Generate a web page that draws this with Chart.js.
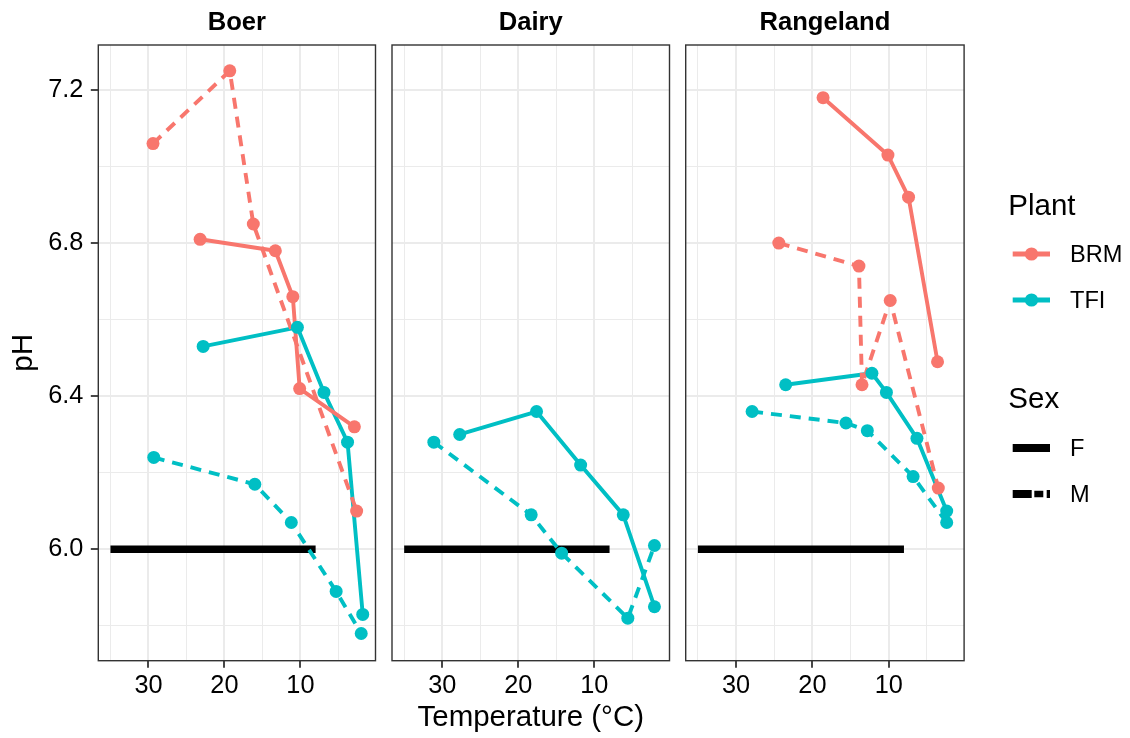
<!DOCTYPE html>
<html><head><meta charset="utf-8">
<script src="https://cdn.jsdelivr.net/npm/chart.js@4.4.1/dist/chart.umd.min.js"></script>
<style>
html,body{margin:0;padding:0;background:#fff;}
body{width:1130px;height:738px;position:relative;overflow:hidden;}
canvas{position:absolute;top:0;}
</style></head><body>
<canvas id="c1" width="382" height="738" style="left:0px"></canvas>
<canvas id="c2" width="292" height="738" style="left:384px"></canvas>
<canvas id="c3" width="452" height="738" style="left:678px"></canvas>
<script>
// ---------------- DATA ----------------
const facets = ['Boer', 'Dairy', 'Rangeland'];
const plants = ['BRM', 'TFI'];
const sexes = ['F', 'M'];

// Boer
const boer_BRM_F_temp = [23.2, 13.3, 11.0, 10.1, 2.9];
const boer_BRM_F_pH   = [6.81, 6.78, 6.66, 6.42, 6.32];
const boer_BRM_M_temp = [29.4, 19.3, 16.2, 2.6];
const boer_BRM_M_pH   = [7.06, 7.25, 6.85, 6.10];
const boer_TFI_F_temp = [22.8, 10.4, 6.9, 3.8, 1.8];
const boer_TFI_F_pH   = [6.53, 6.58, 6.41, 6.28, 5.83];
const boer_TFI_M_temp = [29.3, 16.0, 11.2, 5.3, 2.0];
const boer_TFI_M_pH   = [6.24, 6.17, 6.07, 5.89, 5.78];
// Dairy
const dairy_TFI_F_temp = [27.7, 17.6, 11.8, 6.2, 2.1];
const dairy_TFI_F_pH   = [6.30, 6.36, 6.22, 6.09, 5.85];
const dairy_TFI_M_temp = [31.1, 18.3, 14.3, 5.6, 2.1];
const dairy_TFI_M_pH   = [6.28, 6.09, 5.99, 5.82, 6.01];
// Rangeland
const range_BRM_F_temp = [18.6, 10.1, 7.4, 3.6];
const range_BRM_F_pH   = [7.18, 7.03, 6.92, 6.49];
const range_BRM_M_temp = [24.4, 13.9, 13.5, 9.8, 3.5];
const range_BRM_M_pH   = [6.80, 6.74, 6.43, 6.65, 6.16];
const range_TFI_F_temp = [23.5, 12.2, 10.3, 6.3, 2.4];
const range_TFI_F_pH   = [6.43, 6.46, 6.41, 6.29, 6.10];
const range_TFI_M_temp = [27.9, 15.6, 12.8, 6.8, 2.4];
const range_TFI_M_pH   = [6.36, 6.33, 6.31, 6.19, 6.07];

// reference (Sex = F) bar
const refLine_temp = [35, 8];
const refLine_pH = [6.0, 6.0];

// ticks
const xMajorTicks = [10, 20, 30];
const xMinorTicks = [5, 15, 25, 35];
const yMajorTicks = [6.0, 6.4, 6.8, 7.2];
const yMinorTicks = [5.8, 6.2, 6.6, 7.0];
const xLimits = [0.12, 36.6];
const yLimits = [5.709, 7.3176];

// ---------------- STYLE ----------------
const FONT = "'Liberation Sans', Arial, Helvetica, sans-serif";
const plantColor = { BRM: '#F8766D', TFI: '#00BFC4' };
const dashFor = { F: [], M: [11, 8] };

const seriesByFacet = {
  Boer: [
    ['BRM', 'F', boer_BRM_F_temp, boer_BRM_F_pH],
    ['BRM', 'M', boer_BRM_M_temp, boer_BRM_M_pH],
    ['TFI', 'F', boer_TFI_F_temp, boer_TFI_F_pH],
    ['TFI', 'M', boer_TFI_M_temp, boer_TFI_M_pH]
  ],
  Dairy: [
    ['TFI', 'F', dairy_TFI_F_temp, dairy_TFI_F_pH],
    ['TFI', 'M', dairy_TFI_M_temp, dairy_TFI_M_pH]
  ],
  Rangeland: [
    ['BRM', 'F', range_BRM_F_temp, range_BRM_F_pH],
    ['BRM', 'M', range_BRM_M_temp, range_BRM_M_pH],
    ['TFI', 'F', range_TFI_F_temp, range_TFI_F_pH],
    ['TFI', 'M', range_TFI_M_temp, range_TFI_M_pH]
  ]
};

const zip = (xs, ys) => xs.map((x, i) => ({ x: x, y: ys[i] }));
const near = (arr, v) => arr.some(m => Math.abs(m - v) < 1e-6);
const xAll = xMajorTicks.concat(xMinorTicks).sort((a, b) => a - b);
const yAll = yMajorTicks.concat(yMinorTicks).sort((a, b) => a - b);

function buildDatasets(facet) {
  const ds = [];
  ds.push({
    data: zip(refLine_temp, refLine_pH), borderColor: '#000000', borderWidth: 7.5,
    pointRadius: 0, fill: false, tension: 0, borderCapStyle: 'butt', order: 3
  });
  seriesByFacet[facet].forEach(([plant, sex, t, p]) => {
    ds.push({
      data: zip(t, p), borderColor: plantColor[plant], borderWidth: 3.9,
      borderDash: dashFor[sex], pointRadius: 0, fill: false, tension: 0,
      borderCapStyle: 'butt', borderJoinStyle: 'round', order: 2
    });
  });
  seriesByFacet[facet].forEach(([plant, sex, t, p]) => {
    ds.push({
      data: zip(t, p), showLine: false, pointRadius: 6.5,
      pointBackgroundColor: plantColor[plant], pointBorderColor: plantColor[plant],
      pointBorderWidth: 0, order: 1
    });
  });
  return ds;
}

const panelPlugin = {
  id: 'panelDeco',
  afterDatasetsDraw(chart) {
    const ca = chart.chartArea, ctx = chart.ctx;
    ctx.save();
    ctx.strokeStyle = '#333333';
    ctx.lineWidth = 1.4;
    ctx.strokeRect(ca.left, ca.top, ca.right - ca.left, ca.bottom - ca.top);
    ctx.restore();
  },
  afterDraw(chart) {
    const ca = chart.chartArea, ctx = chart.ctx;
    const name = chart.options.plugins.panelDeco.title;
    ctx.save();
    ctx.fillStyle = '#000';
    ctx.font = 'bold 25.6px ' + FONT;
    ctx.textAlign = 'center';
    ctx.textBaseline = 'alphabetic';
    ctx.fillText(name, (ca.left + ca.right) / 2, 30);
    ctx.restore();
  }
};

const legendPlugin = {
  id: 'ggLegend',
  afterDraw(chart) {
    const o = chart.options.plugins.ggLegend;
    if (!o || !o.show) return;
    const ox = o.offsetX;
    const ctx = chart.ctx;
    ctx.save();
    ctx.fillStyle = '#000';
    ctx.textAlign = 'left';
    ctx.textBaseline = 'alphabetic';
    ctx.font = '29.5px ' + FONT;
    ctx.fillText('Plant', 1008.3 - ox, 215);
    ctx.fillText('Sex', 1008.3 - ox, 407.5);
    const keyL = 1012.7 - ox, keyR = 1050 - ox, keyM = 1031.5 - ox;
    const plantY = [254, 300];
    plants.forEach((pl, i) => {
      const y = plantY[i];
      ctx.strokeStyle = plantColor[pl];
      ctx.lineWidth = 5;
      ctx.lineCap = 'butt';
      ctx.beginPath(); ctx.moveTo(keyL, y); ctx.lineTo(keyR, y); ctx.stroke();
      ctx.fillStyle = plantColor[pl];
      ctx.beginPath(); ctx.arc(keyM, y, 6.6, 0, Math.PI * 2); ctx.fill();
      ctx.fillStyle = '#000';
      ctx.font = '23.6px ' + FONT;
      ctx.textBaseline = 'middle';
      ctx.fillText(pl, 1070 - ox, y + 1);
    });
    const sexY = [448, 494];
    // F key
    ctx.strokeStyle = '#000';
    ctx.lineWidth = 8;
    ctx.beginPath(); ctx.moveTo(keyL, sexY[0]); ctx.lineTo(keyR, sexY[0]); ctx.stroke();
    // M key (dashed)
    const segs = [[0, 19, 8], [21.6, 30.6, 6.5], [34, 37.3, 8]];
    segs.forEach(([a, b, w]) => {
      ctx.lineWidth = w;
      ctx.beginPath(); ctx.moveTo(keyL + a, sexY[1]); ctx.lineTo(keyL + b, sexY[1]); ctx.stroke();
    });
    ctx.font = '23.6px ' + FONT;
    ctx.textBaseline = 'middle';
    sexes.forEach((s, i) => ctx.fillText(s, 1070 - ox, sexY[i] + 1));
    ctx.restore();
  }
};

function makeChart(id, facet, cfg) {
  const showY = cfg.showY;
  return new Chart(document.getElementById(id), {
    type: 'line',
    data: { datasets: buildDatasets(facet) },
    plugins: [panelPlugin, legendPlugin],
    options: {
      responsive: false, animation: false, devicePixelRatio: 1, events: [],
      layout: { padding: { top: 45, left: cfg.padLeft, right: cfg.padRight, bottom: 0 } },
      plugins: {
        legend: { display: false }, tooltip: { enabled: false }, title: { display: false },
        panelDeco: { title: facet },
        ggLegend: { show: !!cfg.legend, offsetX: cfg.offsetX }
      },
      scales: {
        x: {
          type: 'linear', reverse: true, min: xLimits[0], max: xLimits[1],
          afterBuildTicks: s => { s.ticks = xAll.map(v => ({ value: v })); },
          afterFit: s => { s.height = 77.3; },
          ticks: {
            autoSkip: false, maxRotation: 0, minRotation: 0,
            callback: v => near(xMajorTicks, v) ? String(v) : '',
            font: { family: FONT, size: 25.3 }, color: '#000', padding: 3
          },
          grid: {
            color: '#EBEBEB',
            lineWidth: c => (c.tick && near(xMajorTicks, c.tick.value)) ? 2 : 1,
            drawTicks: true, tickLength: 7,
            tickWidth: 1.8,
            tickColor: c => (c.tick && near(xMajorTicks, c.tick.value)) ? '#333333' : 'rgba(0,0,0,0)'
          },
          border: { display: false },
          title: {
            display: !!cfg.showXTitle, text: 'Temperature (°C)',
            font: { family: FONT, size: 29.5 }, color: '#000', padding: { top: 0, bottom: 2.5 }
          }
        },
        y: {
          type: 'linear', min: yLimits[0], max: yLimits[1],
          afterBuildTicks: s => { s.ticks = yAll.map(v => ({ value: v })); },
          afterFit: s => { s.width = showY ? 98.3 : 0; },
          ticks: {
            display: showY, autoSkip: false,
            callback: v => near(yMajorTicks, v) ? v.toFixed(1) : '',
            font: { family: FONT, size: 25.3 }, color: '#000', padding: 7.5
          },
          grid: {
            color: '#EBEBEB',
            lineWidth: c => (c.tick && near(yMajorTicks, c.tick.value)) ? 2 : 1,
            drawTicks: showY, tickLength: 7.5, tickWidth: 1.8,
            tickColor: c => (c.tick && near(yMajorTicks, c.tick.value)) ? '#333333' : 'rgba(0,0,0,0)'
          },
          border: { display: false },
          title: {
            display: showY, text: 'pH',
            font: { family: FONT, size: 29.5 }, color: '#000', padding: { top: 6.4, bottom: 0 }
          }
        }
      }
    }
  });
}

makeChart('c1', facets[0], { showY: true, padLeft: 0, padRight: 382 - 376.7, offsetX: 0 });
makeChart('c2', facets[1], { showY: false, showXTitle: true, padLeft: 392 - 384, padRight: 676 - 670.4, offsetX: 384 });
makeChart('c3', facets[2], { showY: false, padLeft: 685.7 - 678, padRight: 1130 - 964.1, legend: true, offsetX: 678 });
</script>
</body></html>
